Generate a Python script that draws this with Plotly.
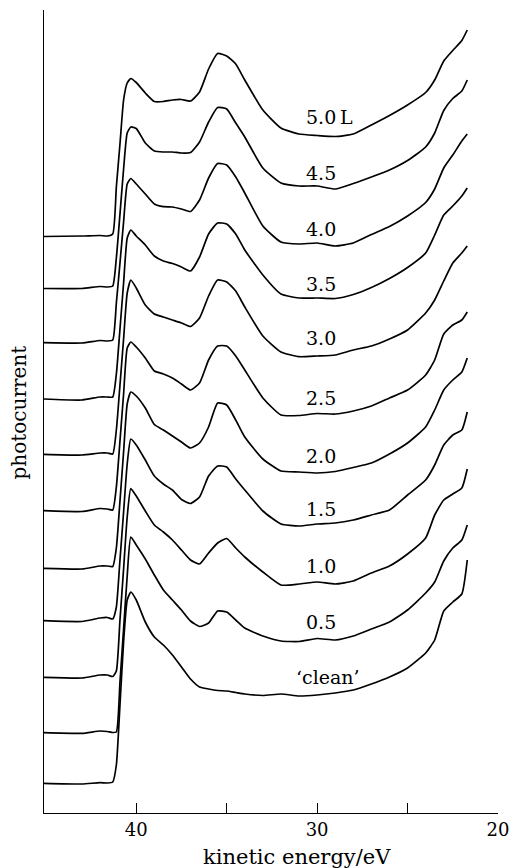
import plotly.graph_objects as go

# kinetic energy grid (eV)
energy = [45.1, 43.0, 42.0, 41.6, 41.3, 41.1, 40.9, 40.7, 40.5, 40.3, 40.0, 39.5, 39.0,
          38.5, 38.0, 37.5, 37.0, 36.5, 36.0, 35.5, 35.0, 34.5, 34.0, 33.0, 32.0, 31.0,
          30.0, 29.0, 28.0, 27.0, 26.0, 25.0, 24.0, 23.5, 23.0, 22.5, 22.0, 21.7]

# stacked photocurrent traces (arbitrary units, offsets included)
pc_clean = [29.7, 29, 30.3, 30, 31, 48, 108, 171, 213, 221, 213, 191, 176, 168, 158, 146, 134,
            126, 124, 122.5, 122, 120.5, 119, 117.5, 119, 117, 118, 120, 123, 129, 136, 145,
            160, 173, 202, 211, 219, 253]
pc_05 = [80.3, 79.7, 82, 81.5, 80.5, 81, 131, 184, 237, 276, 268, 254, 238, 223, 213, 203, 192,
         186.5, 190, 202, 201, 193, 185, 177, 172, 171.5, 174.5, 173, 177, 184, 191, 203, 220,
         231, 252, 265, 273, 288]
pc_10 = [135.7, 135, 138, 138, 136.5, 142, 193, 244, 296, 324.5, 317, 302, 288, 281, 273, 263,
         253, 249, 260, 270, 274.5, 265, 256, 241, 228, 229, 231, 229, 232, 240, 247, 259, 275,
         298, 313, 319, 325, 344]
pc_15 = [192.3, 191.5, 195, 195.5, 194, 206, 253, 301, 349, 374, 368, 353, 337, 329, 323, 313.5,
         309.5, 316, 337, 347, 346, 334, 323, 302, 289, 287, 289, 290, 293, 298, 303, 318, 333,
         348, 368, 378, 383, 401]
pc_20 = [244.7, 244, 247, 247, 246.5, 265, 312, 361, 409, 421, 417, 405, 388.5, 383, 377, 371,
         365, 370, 386, 410, 408, 393, 376, 354, 342, 341, 340, 341.5, 345.5, 350, 359, 370,
         386, 403, 423, 433, 441, 455]
pc_25 = [302.3, 301.5, 304.5, 304, 303, 326, 372, 419, 465, 471, 466, 455, 442, 439, 435, 429,
         423, 430, 453, 467, 467, 457, 443, 415, 398, 397.5, 399.5, 399, 402, 407, 415, 423,
         438, 453, 479, 488, 493, 501]
pc_30 = [358.7, 358, 360, 360, 359, 383, 428, 474, 520, 533, 525, 508, 499, 496, 493, 490, 486.5,
         495, 517, 533, 531, 522, 506, 477, 461, 456.3, 457, 458, 463, 467, 474, 483, 500, 513,
         532, 550, 560, 567]
pc_35 = [414, 413, 416, 416, 416, 439, 484, 530, 575, 583, 577, 568, 557, 552, 549.5, 546, 542,
         556, 579, 590, 589, 579, 563, 538, 519, 515, 515, 514.5, 518.5, 525.5, 534.5, 545.5,
         560, 578, 598, 607, 617, 625]
pc_40 = [470.3, 470, 472.5, 472, 473, 510, 550, 591, 629, 634.5, 629, 619, 609, 606.3, 606, 604,
         601.5, 613, 635, 649.5, 648, 636, 620, 587, 571, 569, 570, 567, 570, 578.5, 586.5, 597,
         610.5, 624, 645, 658, 672, 679]
pc_45 = [524.5, 524.5, 526.5, 526, 527, 555, 599, 644, 680, 686, 684.5, 670, 662, 661, 661, 660,
         660.5, 671, 691, 705.5, 704, 690, 676, 645, 630, 627, 627, 624, 629.5, 636, 643, 652.5,
         666, 680, 702.5, 714.5, 722, 733]
pc_50 = [576.5, 577, 577.5, 577, 579, 626, 669, 713, 730, 734.5, 730.5, 720, 711.5, 711.5, 713,
         713.5, 712, 721, 744, 759.5, 757, 749, 733, 703, 685, 679, 677.5, 676.5, 679, 688, 697.5,
         708, 720.5, 733, 752, 762.5, 772.5, 783]

curves = [pc_clean, pc_05, pc_10, pc_15, pc_20, pc_25, pc_30, pc_35, pc_40, pc_45, pc_50]
labels = ["\u2018clean\u2019", "0.5", "1.0", "1.5", "2.0", "2.5", "3.0", "3.5", "4.0", "4.5", "5.0\u2009L"]
label_x = [31.27, 30.73, 30.73, 30.73, 30.73, 30.73, 30.73, 30.73, 30.73, 30.73, 30.73]
label_y = [136.5, 191, 247.5, 304, 357.5, 415.5, 475, 529, 584, 640.5, 696.5]

tick_vals = [40, 35, 30, 25, 20]
tick_text = ["40", "", "30", "", "20"]

FONT = "DejaVu Serif"

fig = go.Figure()
for c in curves:
    fig.add_trace(go.Scatter(x=energy, y=c, mode="lines",
                             line=dict(color="black", width=1.7, shape="spline", smoothing=0.5),
                             showlegend=False, hoverinfo="skip"))

annotations = []
for t, lx, ly in zip(labels, label_x, label_y):
    annotations.append(dict(x=lx, y=ly, xref="x", yref="y", text=t, showarrow=False,
                            xanchor="left", yanchor="middle",
                            font=dict(family=FONT, size=19, color="black")))
annotations.append(dict(x=31.1, y=0, xref="x", yref="paper", text="kinetic energy/eV",
                        showarrow=False, xanchor="center", yanchor="top", yshift=-30,
                        font=dict(family=FONT, size=21, color="black")))
annotations.append(dict(x=0, y=400.5, xref="paper", yref="y", text="photocurrent",
                        showarrow=False, xanchor="center", yanchor="middle", xshift=-26,
                        textangle=-90, font=dict(family=FONT, size=20, color="black")))

fig.update_layout(
    width=519, height=868,
    margin=dict(l=44, r=16, t=10, b=55),
    paper_bgcolor="white", plot_bgcolor="white",
    annotations=annotations,
    xaxis=dict(range=[45.1, 20], showline=True, linecolor="black", linewidth=1.3,
               ticks="inside", ticklen=10, tickwidth=1.2, tickcolor="black",
               tickvals=tick_vals, ticktext=tick_text, showgrid=False, zeroline=False,
               tickfont=dict(family=FONT, size=18, color="black")),
    yaxis=dict(range=[0, 803], showline=True, linecolor="black", linewidth=1.3,
               showticklabels=False, ticks="", showgrid=False, zeroline=False),
)

fig.write_html("out.html", config={"displayModeBar": False},
               post_script="document.body.style.margin='0';document.body.style.overflow='hidden';")
